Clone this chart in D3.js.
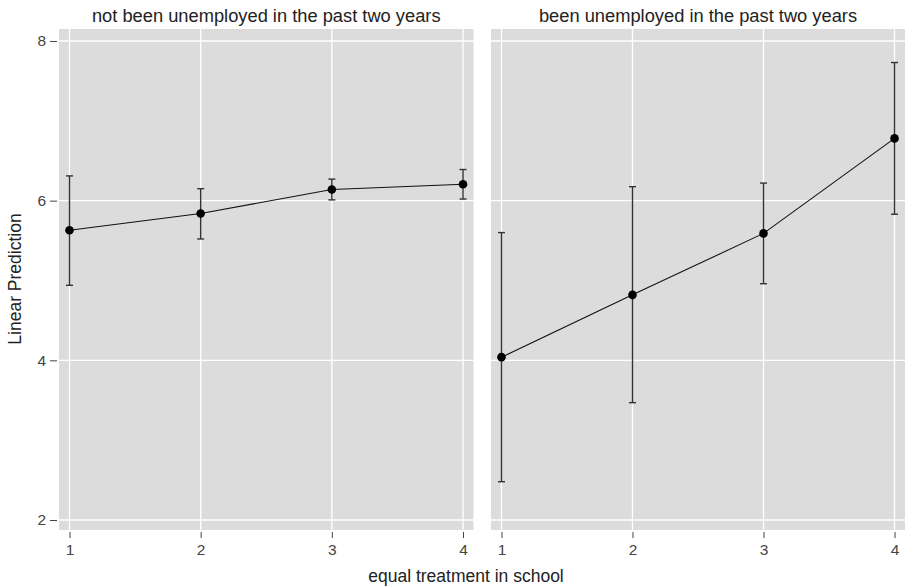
<!DOCTYPE html>
<html><head><meta charset="utf-8">
<script src="https://cdn.jsdelivr.net/npm/d3@7"></script>
<style>body{margin:0;background:#fff}svg{display:block}text{font-family:"Liberation Sans",Arial,sans-serif}</style>
</head><body><svg id="c" width="905" height="588"></svg>
<script>
const panelTitles = ["not been unemployed in the past two years", "been unemployed in the past two years"];
const xCategories = [1, 2, 3, 4];
const yTicks = [2, 4, 6, 8];
const estimates0 = [5.63, 5.84, 6.14, 6.205];
const lower0 = [4.94, 5.52, 6.01, 6.02];
const upper0 = [6.31, 6.15, 6.27, 6.39];
const estimates1 = [4.04, 4.82, 5.59, 6.78];
const lower1 = [2.48, 3.47, 4.96, 5.83];
const upper1 = [5.60, 6.175, 6.22, 7.73];
const xTitle = "equal treatment in school";
const yTitle = "Linear Prediction";

(function () {
const panels = [
  {title: panelTitles[0], est: estimates0, lo: lower0, hi: upper0},
  {title: panelTitles[1], est: estimates1, lo: lower1, hi: upper1}
];

const svg = d3.select("#c");
const plotTop = 29, plotBottom = 530;
const panelX = [[59, 473.5], [491, 905]];
const y = d3.scaleLinear().domain([1.875, 8.15]).range([plotBottom, plotTop]);

panels.forEach((p, i) => {
  const [x0, x1] = panelX[i];
  const x = d3.scaleLinear().domain([0.92, 4.08]).range([x0, x1]);
  const g = svg.append("g");
  g.append("rect").attr("x", x0).attr("y", plotTop).attr("width", x1 - x0).attr("height", plotBottom - plotTop).attr("fill", "#dcdcdc");
  g.selectAll(".gy").data(yTicks).join("line")
    .attr("x1", x0).attr("x2", x1).attr("y1", d => y(d)).attr("y2", d => y(d))
    .attr("stroke", "#fff").attr("stroke-width", 1.3);
  g.selectAll(".gx").data(xCategories).join("line")
    .attr("x1", d => x(d)).attr("x2", d => x(d)).attr("y1", plotTop).attr("y2", plotBottom)
    .attr("stroke", "#fff").attr("stroke-width", 1.3);
  const xa = d3.axisBottom(x).tickValues(xCategories).tickSize(6).tickPadding(6).tickFormat(d3.format("d"));
  const xg = g.append("g").attr("transform", `translate(0,${plotBottom + 2})`).call(xa);
  xg.select(".domain").remove();
  xg.selectAll("line").attr("stroke", "#444");
  xg.selectAll("text").attr("fill", "#444").attr("font-size", 15.5);
  g.append("text").attr("x", (x0 + x1) / 2).attr("y", 22).attr("text-anchor", "middle")
    .attr("font-size", 18.3).attr("fill", "#222").text(p.title);
  const pts = xCategories.map((c, j) => ({x: c, e: p.est[j], lo: p.lo[j], hi: p.hi[j]}));
  g.append("path").datum(pts).attr("fill", "none").attr("stroke", "#111").attr("stroke-width", 1.1)
    .attr("d", d3.line().x(d => x(d.x)).y(d => y(d.e)));
  const eb = g.selectAll(".eb").data(pts).join("g");
  eb.append("line").attr("x1", d => x(d.x)).attr("x2", d => x(d.x)).attr("y1", d => y(d.lo)).attr("y2", d => y(d.hi))
    .attr("stroke", "#333").attr("stroke-width", 1.4);
  eb.append("line").attr("x1", d => x(d.x) - 3.5).attr("x2", d => x(d.x) + 3.5).attr("y1", d => y(d.lo)).attr("y2", d => y(d.lo))
    .attr("stroke", "#333").attr("stroke-width", 1.4);
  eb.append("line").attr("x1", d => x(d.x) - 3.5).attr("x2", d => x(d.x) + 3.5).attr("y1", d => y(d.hi)).attr("y2", d => y(d.hi))
    .attr("stroke", "#333").attr("stroke-width", 1.4);
  g.selectAll(".pt").data(pts).join("circle").attr("cx", d => x(d.x)).attr("cy", d => y(d.e)).attr("r", 4.3).attr("fill", "#000");
});

const ya = d3.axisLeft(y).tickValues(yTicks).tickSize(7).tickPadding(4).tickFormat(d3.format("d"));
const yg = svg.append("g").attr("transform", "translate(57,0)").call(ya);
yg.select(".domain").remove();
yg.selectAll("line").attr("stroke", "#444");
yg.selectAll("text").attr("fill", "#444").attr("font-size", 15.5);

svg.append("text").attr("x", 466).attr("y", 582).attr("text-anchor", "middle").attr("font-size", 17.5).attr("fill", "#222").text(xTitle);
svg.append("text").attr("transform", "translate(21,279) rotate(-90)").attr("text-anchor", "middle").attr("font-size", 17.5).attr("fill", "#222").text(yTitle);
})();
</script></body></html>
